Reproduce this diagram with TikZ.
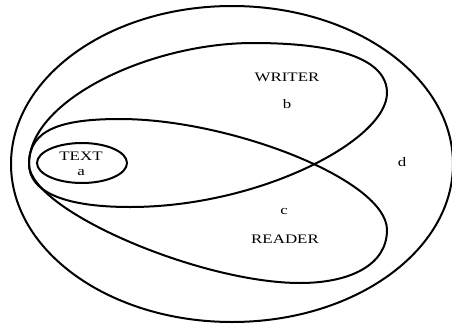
\documentclass[tikz,border=0pt]{standalone}
\usepackage{fontspec}
\setmainfont{Liberation Serif}
\usepackage{graphicx}
\newcommand{\wide}[1]{\scalebox{1.3}[1]{#1}}

\begin{document}
\begin{tikzpicture}[x=1pt, y=-1pt, line width=2pt,
  lbl/.style={inner sep=0pt, font=\fontsize{13}{15}\selectfont}]
  \useasboundingbox (0,0) rectangle (452,324);

  %--- outer set d ---
  \draw (232,164) ellipse [x radius=221, y radius=158];

  %--- writer set ---
  \draw (29,164) .. controls (29,100) and (150,43) .. (253,43)
    .. controls (340,43) and (387,60) .. (387,93)
    .. controls (387,140) and (260,207) .. (130,207)
    .. controls (60,207) and (29,190) .. (29,164);

  %--- reader set ---
  \draw (29,164) .. controls (29,130) and (60,119) .. (120,119)
    .. controls (230,119) and (387,180) .. (387,230)
    .. controls (387,265) and (350,283) .. (300,283)
    .. controls (200,283) and (29,210) .. (29,164);

  %--- text set ---
  \draw (82,163) ellipse [x radius=45, y radius=20];

  %--- labels ---
  \node[lbl] (text) at (81,156) {\wide{TEXT}};
  \node[lbl] (a) at (81,173) {\wide{a}};
  \node[lbl] (writer) at (287,77) {\wide{WRITER}};
  \node[lbl] (b) at (287,104) {\wide{b}};
  \node[lbl] (c) at (284,211) {\wide{c}};
  \node[lbl] (reader) at (285,239) {\wide{READER}};
  \node[lbl] (d) at (402,162) {\wide{d}};
\end{tikzpicture}
\end{document}
